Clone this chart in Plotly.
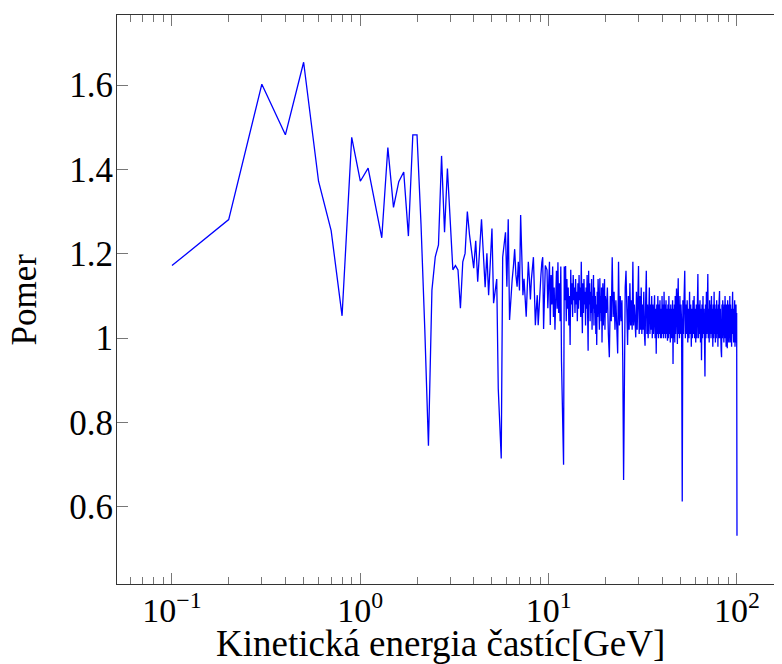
import numpy as np
import plotly.graph_objects as go

# y values for x = 0.1 ... 20.0 GeV (step 0.1)
y_low = [
    1.172, 1.281, 1.602, 1.482, 1.654, 1.372, 1.255, 1.053, 1.476, 1.372,
    1.403, 1.320, 1.238, 1.452, 1.310, 1.371, 1.394, 1.242, 1.482, 1.482,
    1.270, 1.020, 0.745, 1.114, 1.193, 1.221, 1.432, 1.251, 1.402, 1.280,
    1.162, 1.172, 1.162, 1.071, 1.181, 1.201, 1.300, 1.245, 1.200, 1.166,
    1.231, 1.134, 1.210, 1.282, 1.200, 1.121, 1.201, 1.102, 1.180, 1.260,
    1.083, 1.110, 1.140, 0.880, 0.800, 0.715, 1.192, 1.220, 1.251, 1.122,
    1.282, 1.043, 1.100, 1.138, 1.170, 1.211, 1.150, 1.122, 1.181, 1.113,
    1.292, 1.200, 1.102, 1.141, 1.100, 1.051, 1.120, 1.181, 1.140, 1.092,
    1.140, 1.170, 1.192, 1.110, 1.031, 1.070, 1.102, 1.031, 1.080, 1.122,
    1.150, 1.180, 1.192, 1.022, 1.100, 1.172, 1.167, 1.162, 1.071, 1.130,
    1.181, 1.031, 1.150, 1.080, 1.170, 1.050, 1.120, 1.020, 1.100, 1.160,
    1.070, 1.180, 1.060, 1.130, 1.040, 1.170, 0.944, 0.862, 0.780, 0.700,
    1.170, 1.090, 1.171, 1.040, 1.140, 1.070, 1.120, 1.030, 1.100, 0.984,
    1.162, 1.080, 1.130, 1.050, 1.150, 1.090, 1.120, 1.060, 1.140, 1.080,
    1.110, 1.040, 1.130, 1.070, 1.150, 1.090, 1.120, 1.050, 1.181, 1.090,
    1.012, 1.130, 1.060, 1.140, 1.080, 1.110, 1.030, 1.120, 1.070, 1.150,
    1.050, 0.970, 1.160, 1.080, 1.130, 1.040, 1.110, 1.060, 1.140, 1.020,
    1.100, 1.070, 1.150, 1.030, 1.120, 1.060, 1.100, 1.010, 1.080, 0.984,
    1.110, 1.050, 1.140, 1.070, 1.090, 1.020, 1.142, 1.060, 1.100, 1.040,
    1.120, 0.990, 1.080, 1.130, 1.030, 1.090, 1.060, 1.140, 1.020, 1.100,
]

# y values for x = 20.25 ... 50.0 GeV (step 0.25)
y_mid = [
    1.06, 1.12, 1.01, 0.955,
    1.10, 1.04, 1.192, 1.05,
    1.11, 1.02, 1.09, 1.03,
    0.964, 1.181, 1.03, 1.10,
    1.04, 1.09, 0.944, 0.664,
    1.06, 1.12, 1.160, 1.03,
    0.984, 1.10, 1.02, 1.13,
    1.03, 1.09, 1.02, 1.181,
    1.03, 1.08, 1.01, 1.002,
    1.11, 1.02, 1.09, 1.171,
    1.01, 1.10, 1.02, 1.12,
    1.01, 1.08, 1.02, 1.11,
    1.01, 0.982, 1.09, 1.160,
    1.01, 1.08, 1.00, 1.09,
    1.12, 1.01, 1.08, 1.02,
    1.10, 1.00, 1.08, 1.01,
    1.09, 1.102, 1.00, 1.07,
    0.963, 1.08, 1.01, 1.10,
    1.00, 1.08, 1.01, 1.09,
    1.00, 1.07, 1.00, 1.10,
    1.01, 1.08, 1.00, 1.110,
    1.01, 1.08, 1.00, 1.09,
    1.01, 1.07, 0.994, 1.08,
    1.00, 1.10, 1.01, 1.07,
    0.99, 1.08, 1.00, 1.07,
    1.00, 1.09, 0.939, 1.07,
    1.00, 1.08, 0.99, 1.10,
    1.01, 1.07, 1.118, 1.00,
    0.986, 1.09, 1.142, 1.01,
    1.08, 1.00, 1.10, 1.01,
]

# y values for x = 50.4 ... 100.0 GeV (step 0.4)
y_high = [
    1.08, 1.04, 0.613, 1.09, 1.01,
    1.10, 1.160, 1.00, 1.08, 1.01,
    1.09, 0.99, 1.07, 1.00, 1.11,
    1.01, 1.08, 0.98, 1.07, 1.00,
    1.09, 1.01, 1.10, 1.00, 1.07,
    0.99, 1.08, 1.00, 1.06, 1.152,
    1.00, 1.08, 1.01, 1.09, 0.99,
    1.07, 0.948, 1.08, 1.00, 1.10,
    1.01, 1.07, 1.00, 0.909, 1.08,
    1.00, 1.11, 1.01, 1.08, 1.152,
    1.00, 1.07, 0.99, 1.09, 1.01,
    1.08, 1.00, 1.10, 1.01, 1.07,
    0.98, 1.08, 1.00, 1.11, 1.01,
    1.08, 0.99, 1.07, 1.00, 1.09,
    1.01, 1.07, 0.98, 1.08, 1.00,
    1.09, 1.112, 1.00, 1.07, 1.01,
    0.97, 0.955, 1.08, 1.00, 1.09,
    1.01, 1.07, 0.99, 1.08, 1.00,
    1.10, 1.01, 1.07, 0.98, 1.08,
    1.00, 0.976, 1.09, 1.01, 1.07,
    0.99, 1.08, 1.00, 1.10, 0.99,
    1.08, 1.01, 1.07, 0.98, 1.08,
    1.00, 1.110, 1.01, 1.07, 0.99,
    1.08, 1.00, 1.09, 0.98, 1.07,
    1.00, 1.08, 0.99, 1.06, 0.532,
]

x_low = np.round(np.arange(1, len(y_low) + 1) * 0.1, 2)
x_mid = np.round(20 + 0.25 * np.arange(1, len(y_mid) + 1), 2)
x_high = np.round(50 + 0.4 * np.arange(1, len(y_high) + 1), 2)

x = np.concatenate([x_low, x_mid, x_high])
y = np.array(y_low + y_mid + y_high)

x_tick_vals = [0.1, 1, 10, 100]
x_tick_text = ["10<sup>−1</sup>", "10<sup>0</sup>", "10<sup>1</sup>", "10<sup>2</sup>"]
x_minor_vals = [m * 10.0 ** e for e in range(-2, 3) for m in range(2, 10)]
y_tick_vals = [0.6, 0.8, 1.0, 1.2, 1.4, 1.6]
y_tick_text = ["0.6", "0.8", "1", "1.2", "1.4", "1.6"]

x_title = "Kinetická energia častíc[GeV]"
y_title = "Pomer"

FONT = "Liberation Serif"

# The page body adds an 8 px offset, so the figure is 8 px smaller on each axis
W, H = 774, 656
L, R, T, B = 109, 0, 7, 80
PW, PH = W - L - R, H - T - B

fig = go.Figure(
    go.Scatter(x=x, y=y, mode="lines", line=dict(color="#0000ff", width=1.3))
)

fig.update_layout(
    width=W,
    height=H,
    margin=dict(l=L, r=R, t=T, b=B, autoexpand=False),
    plot_bgcolor="white",
    paper_bgcolor="white",
    showlegend=False,
    font=dict(family=FONT, size=34, color="black"),
)

fig.update_xaxes(
    type="log",
    range=[-1.292, 2.239],
    automargin=False,
    showline=True,
    linecolor="#333333",
    linewidth=1,
    mirror="ticks",
    ticks="inside",
    ticklen=11,
    tickwidth=1,
    tickcolor="#777777",
    tickvals=x_tick_vals,
    ticktext=x_tick_text,
    tickfont=dict(family=FONT, size=34, color="black"),
    ticklabelstandoff=-4,
    showgrid=False,
    zeroline=False,
    minor=dict(
        ticks="inside",
        ticklen=7,
        tickwidth=1,
        tickcolor="#777777",
        tickvals=x_minor_vals,
        showgrid=False,
    ),
)

fig.update_yaxes(
    range=[0.4175, 1.7659],
    automargin=False,
    showline=True,
    linecolor="#333333",
    linewidth=1,
    mirror=False,
    ticks="inside",
    ticklen=11,
    tickwidth=1,
    tickcolor="#777777",
    tickvals=y_tick_vals,
    ticktext=y_tick_text,
    tickfont=dict(family=FONT, size=35, color="black"),
    ticklabelstandoff=-4,
    showgrid=False,
    zeroline=False,
)

# titles placed in window pixels (subtract the 8 px page offset)
def px_to_paper_x(px):
    return (px - 8 - L) / PW

def px_to_paper_y(py):
    return (H - B - (py - 8)) / PH

fig.add_annotation(
    text=x_title, xref="paper", yref="paper",
    x=px_to_paper_x(440), y=px_to_paper_y(643),
    xanchor="center", yanchor="middle", showarrow=False,
    font=dict(family=FONT, size=37, color="black"),
)
fig.add_annotation(
    text=y_title, xref="paper", yref="paper",
    x=px_to_paper_x(24), y=0.5, textangle=-90,
    xanchor="center", yanchor="middle", showarrow=False,
    font=dict(family=FONT, size=35, color="black"),
)

fig.write_html("out.html", config={"displayModeBar": False})
